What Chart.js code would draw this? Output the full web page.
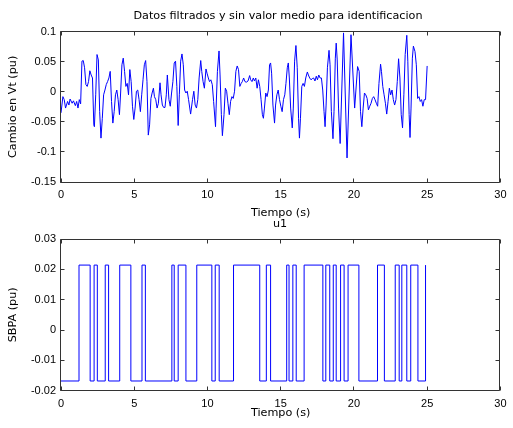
<!DOCTYPE html>
<html>
<head>
<meta charset="utf-8">
<script src="https://cdn.jsdelivr.net/npm/chart.js@4/dist/chart.umd.min.js"></script>
<style>
html,body{margin:0;padding:0;background:#fff;}
#wrap{position:relative;width:513px;height:428px;overflow:hidden;background:#fff;}
canvas{position:absolute;left:0;}
#c1{top:0;}
#c2{top:205px;}
</style>
</head>
<body>
<div id="wrap">
<canvas id="c1" width="513" height="225"></canvas>
<canvas id="c2" width="513" height="223"></canvas>
</div>
<script>
// ---------- texts ----------
const topTitle = 'Datos filtrados y sin valor medio para identificacion';
const bottomTitle = 'u1';
const xTitle = 'Tiempo (s)';
const topYTitle = 'Cambio en Vt (pu)';
const bottomYTitle = 'SBPA (pu)';

// ---------- tick values ----------
const xTickValues = [0, 5, 10, 15, 20, 25, 30];
const topYTickValues = [-0.15, -0.1, -0.05, 0, 0.05, 0.1];
const bottomYTickValues = [-0.02, -0.01, 0, 0.01, 0.02, 0.03];

// ---------- top series: filtered data (time s, value pu), in four pieces ----------
const timeA = [0.00,0.13,0.22,0.31,0.45,0.54,0.62,0.76,0.85,0.98,1.07,1.16,1.25,1.34,1.43,1.52,1.61,1.70,1.79,1.88,1.97,2.06,2.15,2.24,2.28,2.37,2.46,2.55,2.64,2.73,2.82,2.91,3.00,3.09,3.18,3.27,3.36,3.45,3.54,3.63,3.72,3.81,3.90,3.99,4.07,4.16,4.25,4.34,4.43,4.52,4.61,4.70,4.79,4.88,4.97,5.06,5.15,5.24,5.33,5.42,5.51,5.60,5.69,5.78,5.87,5.96,6.05,6.14,6.22,6.31];
const valueA = [-0.035,-0.008,-0.013,-0.027,-0.016,-0.022,-0.012,-0.019,-0.015,-0.023,-0.016,-0.027,-0.013,-0.020,0.051,0.052,0.040,0.012,0.009,0.017,0.035,0.028,0.023,-0.055,-0.058,-0.005,0.062,0.053,-0.033,-0.077,-0.044,-0.005,0.003,0.012,0.017,0.023,0.034,-0.016,-0.052,-0.033,-0.005,0.003,-0.013,-0.038,-0.002,0.045,0.056,0.034,0.009,0.014,-0.005,0.037,0.017,-0.024,-0.046,-0.027,0.001,0.003,-0.013,-0.033,-0.005,0.020,0.045,0.052,0.017,-0.072,-0.055,-0.011,-0.002,0.006];

const timeB = [6.38,6.47,6.56,6.65,6.76,6.83,6.92,7.01,7.10,7.19,7.26,7.37,7.46,7.55,7.64,7.73,7.82,7.91,8.00,8.08,8.17,8.26,8.35,8.44,8.53,8.62,8.71,8.85,8.98,9.07,9.16,9.25,9.34,9.43,9.54,9.61,9.70,9.79,9.90,9.97,10.06,10.14,10.23,10.33,10.42,10.55,10.59,10.68,10.79,10.86,10.95,11.02,11.13,11.22,11.31,11.40,11.49,11.58,11.67,11.76,11.85,11.94,12.03,12.12,12.21,12.30,12.38,12.47,12.56,12.65];
const valueB = [-0.008,-0.013,-0.027,-0.019,0.015,-0.005,-0.022,-0.026,-0.026,-0.005,0.028,-0.013,-0.024,-0.002,0.017,0.048,0.051,0.009,-0.056,-0.005,0.051,0.063,0.045,0.003,-0.002,0.001,-0.013,-0.037,-0.013,0.001,-0.022,-0.027,-0.013,0.023,0.052,0.034,0.017,0.006,0.038,0.031,0.023,0.017,0.020,0.012,-0.016,-0.058,-0.027,0.034,0.068,0.028,-0.038,-0.073,-0.038,0.006,0.001,-0.019,-0.038,-0.016,-0.008,-0.011,0.001,0.034,0.043,0.037,0.009,0.014,0.017,0.023,0.017,0.016];

const timeC = [12.77,12.88,12.95,13.04,13.13,13.21,13.30,13.39,13.48,13.57,13.66,13.75,13.82,13.89,13.98,14.07,14.16,14.24,14.31,14.38,14.47,14.58,14.65,14.74,14.83,14.92,15.01,15.10,15.19,15.28,15.36,15.45,15.52,15.59,15.68,15.79,15.86,15.95,16.04,16.13,16.22,16.28,16.35,16.44,16.53,16.62,16.71,16.82,16.89,16.98,17.07,17.16,17.25,17.34,17.43,17.51,17.60,17.69,17.78,17.87,17.96,18.03,18.10,18.19,18.30,18.37,18.46,18.57,18.64,18.73,18.79,18.86,18.95];
const valueC = [0.018,0.027,0.020,0.017,0.023,0.018,0.023,0.006,0.020,0.009,-0.013,-0.038,-0.044,-0.027,-0.002,-0.008,0.003,0.045,0.048,0.031,-0.022,-0.052,-0.022,-0.005,0.003,-0.013,-0.024,-0.033,-0.013,-0.005,0.014,0.040,0.048,0.023,-0.027,-0.060,-0.027,0.051,0.077,0.040,-0.044,-0.077,-0.044,0.009,0.014,0.009,0.023,0.033,0.028,0.023,0.020,0.022,0.023,0.018,0.026,0.020,0.028,0.023,0.023,0.003,-0.033,-0.058,-0.022,0.040,0.069,0.045,-0.033,-0.078,-0.033,0.056,0.081,0.053,-0.027];

const timeD = [19.06,19.29,19.53,19.80,20.05,20.25,20.36,20.45,20.54,20.63,20.72,20.81,20.90,20.99,21.08,21.17,21.26,21.35,21.44,21.53,21.62,21.71,21.82,21.88,21.97,22.06,22.15,22.24,22.33,22.42,22.51,22.60,22.69,22.78,22.87,22.96,23.05,23.14,23.23,23.32,23.41,23.50,23.61,23.68,23.77,23.83,23.90,23.99,24.06,24.17,24.26,24.35,24.44,24.53,24.62,24.71,24.80,24.89,25.00];
const valueD = [-0.086,0.098,-0.110,0.095,-0.027,0.042,0.034,-0.033,-0.058,-0.027,-0.002,-0.005,-0.011,-0.030,-0.024,-0.019,-0.011,-0.008,-0.013,-0.019,-0.024,0.014,0.046,0.034,0.009,-0.005,-0.019,-0.037,-0.016,0.006,-0.005,0.003,-0.013,-0.022,-0.013,0.017,0.055,0.023,-0.038,-0.060,-0.005,0.062,0.094,0.051,-0.038,-0.076,-0.027,0.056,0.076,0.067,0.045,-0.011,-0.008,-0.016,-0.013,-0.024,-0.013,-0.013,0.043];

// ---------- bottom series: SBPA (PRBS) input, switching times and levels ----------
const sbpaTime = [0,1.23,1.99,2.26,2.48,3.02,3.25,4.01,4.77,5.53,5.76,7.57,7.73,8.00,8.53,9.27,10.30,10.53,10.80,11.78,13.57,14.02,14.31,15.41,15.57,15.83,16.06,16.60,17.88,18.08,18.35,18.59,18.79,19.09,19.33,19.60,20.34,21.61,22.08,22.82,23.09,23.27,23.61,23.88,24.37,24.89];
const sbpaLevel = [-0.0168,0.0214,-0.0168,0.0214,-0.0168,0.0214,-0.0168,0.0214,-0.0168,0.0214,-0.0168,0.0214,-0.0168,0.0214,-0.0168,0.0214,-0.0168,0.0214,-0.0168,0.0214,-0.0168,0.0214,-0.0168,0.0214,-0.0168,0.0214,-0.0168,0.0214,-0.0168,0.0214,-0.0168,0.0214,-0.0168,0.0214,-0.0168,0.0214,-0.0168,0.0214,-0.0168,0.0214,-0.0168,0.0214,-0.0168,0.0214,-0.0168,0.0214];

// ---------- build ----------
const topTime = timeA.concat(timeB, timeC, timeD);
const topValue = valueA.concat(valueB, valueC, valueD);
const topPoints = topTime.map((t, i) => ({x: t, y: topValue[i]}));
const sbpaPoints = sbpaTime.map((t, i) => ({x: t, y: sbpaLevel[i]}));

const TICK_FAMILY = '"Liberation Sans", Arial, Helvetica, sans-serif';
const TEXT_FAMILY = '"DejaVu Sans", Verdana, sans-serif';
const TICK_SIZE = 11;
const TEXT_SIZE = 11.2;
const TEXT_LH = TEXT_SIZE * 1.2;

Chart.defaults.font.family = TICK_FAMILY;
Chart.defaults.font.size = TICK_SIZE;
Chart.defaults.color = '#000';

const mctx = document.createElement('canvas').getContext('2d');
mctx.font = TICK_SIZE + 'px ' + TICK_FAMILY;
function widestLabel(vals) {
  return Math.max.apply(null, vals.map(v => mctx.measureText(String(v)).width));
}

const boxTicks = {
  id: 'boxTicks',
  afterDatasetsDraw(chart) {
    const {ctx, chartArea: a, scales} = chart;
    const L = Math.floor(a.left - 0.5) + 0.5;
    const R = Math.floor(a.right - 0.5) + 0.5;
    const T = Math.floor(a.top) + 0.5;
    const B = Math.floor(a.bottom) + 0.5;
    const len = 4;
    ctx.save();
    ctx.strokeStyle = '#333333';
    ctx.lineWidth = 1;
    ctx.beginPath();
    ctx.rect(L, T, R - L, B - T);
    scales.x.ticks.forEach(tk => {
      const p = Math.round(scales.x.getPixelForValue(tk.value) - 0.5) + 0.5;
      ctx.moveTo(p, B); ctx.lineTo(p, B - len);
      ctx.moveTo(p, T); ctx.lineTo(p, T + len);
    });
    scales.y.ticks.forEach(tk => {
      const p = Math.round(scales.y.getPixelForValue(tk.value) - 0.5) + 0.5;
      ctx.moveTo(L, p); ctx.lineTo(L + len, p);
      ctx.moveTo(R, p); ctx.lineTo(R - len, p);
    });
    ctx.stroke();
    ctx.restore();
  }
};

const CHART_LEFT = 61;      // left edge of the plot box
const LABEL_RIGHT = 56;     // right edge of the y tick labels
const YTITLE_X = 13;        // centre of the rotated y title

function makeChart(id, opt) {
  const widest = widestLabel(opt.yTicks);
  return new Chart(document.getElementById(id), {
    type: 'line',
    data: { datasets: [Object.assign({
      data: opt.points, borderColor: '#0000ff', borderWidth: 1, pointRadius: 0,
      tension: 0, fill: false
    }, opt.datasetExtra)] },
    options: {
      responsive: false, animation: false, devicePixelRatio: 1, parsing: false,
      layout: { padding: { left: opt.padLeft, right: 6, top: 0, bottom: 0 } },
      plugins: {
        legend: { display: false }, tooltip: { enabled: false },
        title: { display: true, text: opt.title, color: '#000',
                 font: { family: TEXT_FAMILY, size: TEXT_SIZE, weight: 'normal' }, padding: opt.titlePad }
      },
      scales: {
        x: {
          type: 'linear', min: 0, max: 30,
          afterBuildTicks: s => { s.ticks = xTickValues.map(v => ({value: v})); },
          afterFit: s => { s.height = opt.xHeight; },
          ticks: { autoSkip: false, maxRotation: 0, minRotation: 0, padding: 6.5, color: '#000', callback: v => String(v) },
          grid: { display: false, drawTicks: false },
          border: { display: false },
          title: { display: true, text: xTitle, color: '#000',
                   font: { family: TEXT_FAMILY, size: TEXT_SIZE }, padding: { top: 0, bottom: opt.xTitleBottom } }
        },
        y: {
          type: 'linear', min: opt.yMin, max: opt.yMax,
          afterBuildTicks: s => { s.ticks = opt.yTicks.map(v => ({value: v})); },
          afterFit: s => { s.width = CHART_LEFT - opt.padLeft; },
          ticks: { autoSkip: false, mirror: true, crossAlign: 'far',
                   padding: LABEL_RIGHT - CHART_LEFT - widest, color: '#000', callback: v => String(v) },
          grid: { display: false, drawTicks: false },
          border: { display: false },
          title: { display: true, text: opt.yTitle, color: '#000',
                   font: { family: TEXT_FAMILY, size: TEXT_SIZE },
                   padding: { top: YTITLE_X - TEXT_LH / 2 - opt.padLeft, bottom: 0 } }
        }
      }
    },
    plugins: [boxTicks]
  });
}

makeChart('c1', {
  points: topPoints, datasetExtra: {}, padLeft: 49,
  title: topTitle, titlePad: { top: 9.4, bottom: 8.86 },
  xHeight: 43, xTitleBottom: 5.5,
  yMin: -0.15, yMax: 0.1, yTicks: topYTickValues, yTitle: topYTitle
});

makeChart('c2', {
  points: sbpaPoints, datasetExtra: { stepped: 'before' }, padLeft: 53,
  title: bottomTitle, titlePad: { top: 12.1, bottom: 8.46 },
  xHeight: 37.3, xTitleBottom: 8.3,
  yMin: -0.02, yMax: 0.03, yTicks: bottomYTickValues, yTitle: bottomYTitle
});
</script>
</body>
</html>
